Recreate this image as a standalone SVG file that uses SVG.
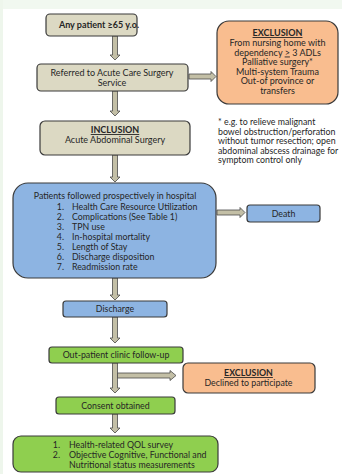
<svg xmlns="http://www.w3.org/2000/svg" width="342" height="474" viewBox="0 0 342 474">
<style>
  text { font-family: Lato, "Liberation Sans", sans-serif; fill: #262626; font-size: 9px; }
  .c { text-anchor: middle; }
  .e { text-anchor: end; }
  .b { font-weight: bold; }
  .u { text-decoration: underline; }
  .s { font-size: 8.8px; }
  .box { stroke: #3a3a3a; stroke-width: 1.2; }
  .tan { fill: #dcd9c3; }
  .org { fill: #f9bd8f; }
  .blu { fill: #8db4e2; }
  .grn { fill: #8fcf4f; }
  .arr { fill: #c3bfa6; stroke: #4a4a4a; stroke-width: 0.8; stroke-linejoin: miter; }
</style>
<rect x="0" y="0" width="342" height="474" fill="#ffffff"/>
<rect x="0" y="0" width="342" height="9" fill="#f1f8f0"/>
<rect x="0" y="0" width="3" height="474" fill="#eef6ec"/>

<g id="connectors">
  <path class="arr" d="M112.5,36 H117.5 V55 H120 L115,60 L110,55 H112.5 Z"/>
  <path class="arr" d="M112.5,91 H117.5 V111 H120 L115,116 L110,111 H112.5 Z"/>
  <path class="arr" d="M112.5,155 H117.5 V177 H120 L115,182 L110,177 H112.5 Z"/>
  <path class="arr" d="M112.5,278 H117.5 V295 H120 L115,300 L110,295 H112.5 Z"/>
  <path class="arr" d="M112.5,317 H117.5 V338 H120 L115,343 L110,338 H112.5 Z"/>
  <path class="arr" d="M112.5,363 H117.5 V388 H120 L115,393 L110,388 H112.5 Z"/>
  <path class="arr" d="M112.5,414 H117.5 V428 H120 L115,433 L110,428 H112.5 Z"/>
  <path class="arr" d="M189,74 H211 V71.5 L216,76.5 L211,81.5 V79 H189 Z"/>
  <path class="arr" d="M217,210 H240 V207.5 L245,212.5 L240,217.5 V215 H217 Z"/>
  <path class="arr" d="M117.5,373 H170 V370.5 L176,375.5 L170,380.5 V378 H117.5 Z"/>
</g>

<g id="n-any-patient">
  <rect class="box tan" x="46" y="14" width="91" height="22" rx="4"/>
  <text class="c b" x="99" y="28">Any patient ≥65 y.o.</text>
</g>

<g id="n-referred">
  <rect class="box tan" x="37" y="64" width="151" height="27" rx="4"/>
  <text class="c" x="112" y="75.5">Referred to Acute Care Surgery</text>
  <text class="c" x="112" y="86">Service</text>
</g>

<g id="n-exclusion1">
  <rect class="box org" x="217" y="21" width="121" height="83" rx="12"/>
  <text class="c b u" x="277.5" y="36">EXCLUSION</text>
  <text class="c" x="277.5" y="46">From nursing home with</text>
  <text class="c" x="277.5" y="55.5">dependency <tspan class="u">&gt;</tspan> 3 ADLs</text>
  <text class="c" x="277.5" y="65">Palliative surgery*</text>
  <text class="c" x="277.5" y="74.5">Multi-system Trauma</text>
  <text class="c" x="277.5" y="84">Out-of province or</text>
  <text class="c" x="277.5" y="93.5">transfers</text>
</g>

<g id="n-footnote">
  <text class="s" x="218" y="125">* e.g. to relieve malignant</text>
  <text class="s" x="218" y="134.5">bowel obstruction/perforation</text>
  <text class="s" x="218" y="144">without tumor resection; open</text>
  <text class="s" x="218" y="153.5">abdominal abscess drainage for</text>
  <text class="s" x="218" y="163">symptom control only</text>
</g>

<g id="n-inclusion">
  <rect class="box tan" x="40" y="121" width="150" height="34" rx="5"/>
  <text class="c b u" x="115" y="133">INCLUSION</text>
  <text class="c" x="115" y="143">Acute Abdominal Surgery</text>
</g>

<g id="n-followed">
  <rect class="box blu" x="13" y="183" width="203" height="95" rx="15"/>
  <text class="c s" x="115" y="199">Patients followed prospectively in hospital</text>
  <text class="s e" x="64" y="210">1.</text><text class="s" x="72" y="210">Health Care Resource Utilization</text>
  <text class="s e" x="64" y="220">2.</text><text class="s" x="72" y="220">Complications (See Table 1)</text>
  <text class="s e" x="64" y="230">3.</text><text class="s" x="72" y="230">TPN use</text>
  <text class="s e" x="64" y="240">4.</text><text class="s" x="72" y="240">In-hospital mortality</text>
  <text class="s e" x="64" y="250">5.</text><text class="s" x="72" y="250">Length of Stay</text>
  <text class="s e" x="64" y="260">6.</text><text class="s" x="72" y="260">Discharge disposition</text>
  <text class="s e" x="64" y="270">7.</text><text class="s" x="72" y="270">Readmission rate</text>
</g>

<g id="n-death">
  <rect class="box blu" x="247" y="205" width="73" height="17" rx="3"/>
  <text class="c s" x="283.5" y="216.5">Death</text>
</g>

<g id="n-discharge">
  <rect class="box blu" x="63" y="301" width="104" height="16" rx="3"/>
  <text class="c s" x="115" y="312">Discharge</text>
</g>

<g id="n-outpatient">
  <rect class="box grn" x="49" y="347" width="134" height="16" rx="3"/>
  <text class="c s" x="116" y="358">Out-patient clinic follow-up</text>
</g>

<g id="n-exclusion2">
  <rect class="box org" x="183" y="363" width="132" height="30" rx="5"/>
  <text class="c b u s" x="248.5" y="376">EXCLUSION</text>
  <text class="c s" x="248.5" y="386">Declined to participate</text>
</g>

<g id="n-consent">
  <rect class="box grn" x="56" y="397" width="119" height="17" rx="3"/>
  <text class="c s" x="115.5" y="408.5">Consent obtained</text>
</g>

<g id="n-measures">
  <rect class="box grn" x="13" y="436" width="205" height="36" rx="8"/>
  <text class="s e" x="60" y="448">1.</text><text class="s" x="69" y="448">Health-related QOL survey</text>
  <text class="s e" x="60" y="458">2.</text><text class="s" x="69" y="458">Objective Cognitive, Functional and</text>
  <text class="s" x="69" y="468">Nutritional  status measurements</text>
</g>
</svg>
